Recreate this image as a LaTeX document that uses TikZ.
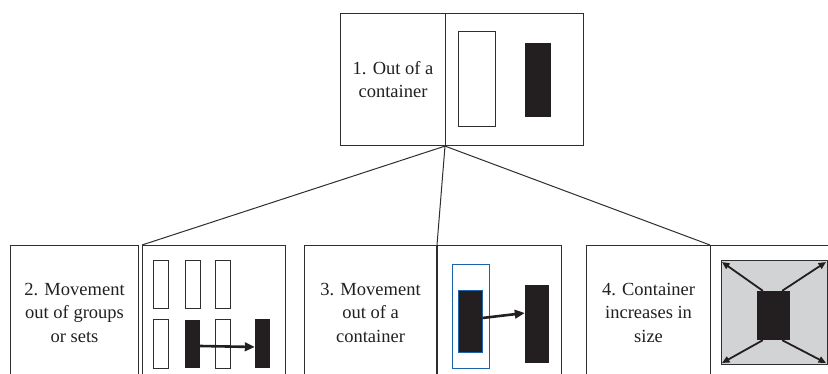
\documentclass[tikz,border=0pt]{standalone}
\usepackage{fontspec}
\setmainfont{Liberation Serif}
\newfontfamily\panelfont{Liberation Serif}
\usetikzlibrary{arrows.meta}

\definecolor{ink}{HTML}{231F20}
\definecolor{frame}{HTML}{2E2E2E}
\definecolor{boxgray}{HTML}{D1D3D4}
\definecolor{edgeblue}{RGB}{30,100,170}

\tikzset{
  panel/.style={draw=frame, line width=1.1pt, rectangle, inner sep=0pt,
    anchor=north west, align=center, text=ink,
    font=\panelfont\fontsize{18.5}{23.5}\selectfont},
  connector/.style={draw=frame, line width=1pt},
  hollowbar/.style={draw=frame, line width=1pt, fill=white, rectangle, inner sep=0pt},
  solidbar/.style={fill=ink, rectangle, inner sep=0pt},
  movearrow/.style={ink, line width=2.6pt, -{Triangle[length=10pt,width=8.5pt]}},
  growarrow/.style={ink, line width=1.8pt, -{Triangle[length=7.5pt,width=6.5pt]}},
}

\begin{document}
\begin{tikzpicture}[x=1pt,y=-1pt]
\useasboundingbox (0,0) rectangle (828,374);
\clip (0,0) rectangle (828,374);

% ---- top: out of a container ----
\node[panel, minimum width=105pt, minimum height=132pt] (top-l) at (340,13)
  {1. Out of a\\container};
\node[panel, minimum width=138pt, minimum height=132pt] (top-r) at (445,13) {};
\node[hollowbar, minimum width=37pt, minimum height=95pt] (t-box) at (476.5,79.5) {};
\node[solidbar, minimum width=26pt, minimum height=74pt] (t-item) at (538,80) {};

% ---- bottom left: movement out of groups or sets ----
\node[panel, minimum width=128pt, minimum height=134pt] (g-l) at (10,245)
  {2. Movement\\out of groups\\or sets};
\node[panel, minimum width=143pt, minimum height=134pt] (g-r) at (142,245) {};
\node[hollowbar, minimum width=15pt, minimum height=48pt] (g11) at (160.5,285) {};
\node[hollowbar, minimum width=15pt, minimum height=48pt] (g12) at (192.5,285) {};
\node[hollowbar, minimum width=15pt, minimum height=48pt] (g13) at (223,285) {};
\node[hollowbar, minimum width=15pt, minimum height=48pt] (g21) at (160.5,344) {};
\node[solidbar,  minimum width=15pt, minimum height=48pt] (g22) at (192.5,344) {};
\node[hollowbar, minimum width=15pt, minimum height=48pt] (g23) at (223,344) {};
\node[solidbar,  minimum width=15pt, minimum height=49pt] (g-out) at (262.5,343.5) {};
\draw[movearrow] ([yshift=-2pt]g22.east) -- ([yshift=-3.5pt]g-out.west);

% ---- bottom middle: movement out of a container ----
\node[panel, minimum width=132pt, minimum height=134pt] (c-l) at (304,245)
  {3. Movement\\out of a\\container};
\node[panel, minimum width=124pt, minimum height=134pt] (c-r) at (437,245) {};
\node[draw=edgeblue, line width=1pt, rectangle, inner sep=0pt,
  minimum width=37pt, minimum height=103pt] (c-box) at (470.5,316.5) {};
\node[solidbar, draw=edgeblue, line width=0.8pt,
  minimum width=24pt, minimum height=62pt] (c-item) at (470,321) {};
\node[solidbar, minimum width=24pt, minimum height=78pt] (c-out) at (537,324) {};
\draw[movearrow] ([yshift=3pt]c-item.east) -- ([yshift=11pt]c-out.west);

% ---- bottom right: container increases in size ----
\node[panel, minimum width=124pt, minimum height=134pt] (s-l) at (586,245)
  {4. Container\\increases in\\size};
\node[panel, minimum width=150pt, minimum height=134pt] (s-r) at (710,245) {};
\node[fill=boxgray, draw=frame, line width=1pt, rectangle, inner sep=0pt,
  minimum width=106pt, minimum height=103pt] (s-box) at (774,312.5) {};
\node[solidbar, minimum width=33pt, minimum height=49pt] (s-item) at (773.5,315.5) {};
\coordinate (s-tl) at (722,262);
\coordinate (s-tr) at (826,262);
\coordinate (s-bl) at (722,363);
\coordinate (s-br) at (826,363);
\draw[growarrow] ([xshift=6pt]s-item.north west) -- (s-tl);
\draw[growarrow] ([xshift=-8pt]s-item.north east) -- (s-tr);
\draw[growarrow] ([xshift=6pt]s-item.south west) -- (s-bl);
\draw[growarrow] ([xshift=-8pt]s-item.south east) -- (s-br);

% ---- connectors from the top panel to the three cases ----
\draw[connector] (top-r.south west) -- (g-r.north west);
\draw[connector] (top-r.south west) -- (c-r.north west);
\draw[connector] (top-r.south west) -- (s-r.north west);
\end{tikzpicture}
\end{document}
